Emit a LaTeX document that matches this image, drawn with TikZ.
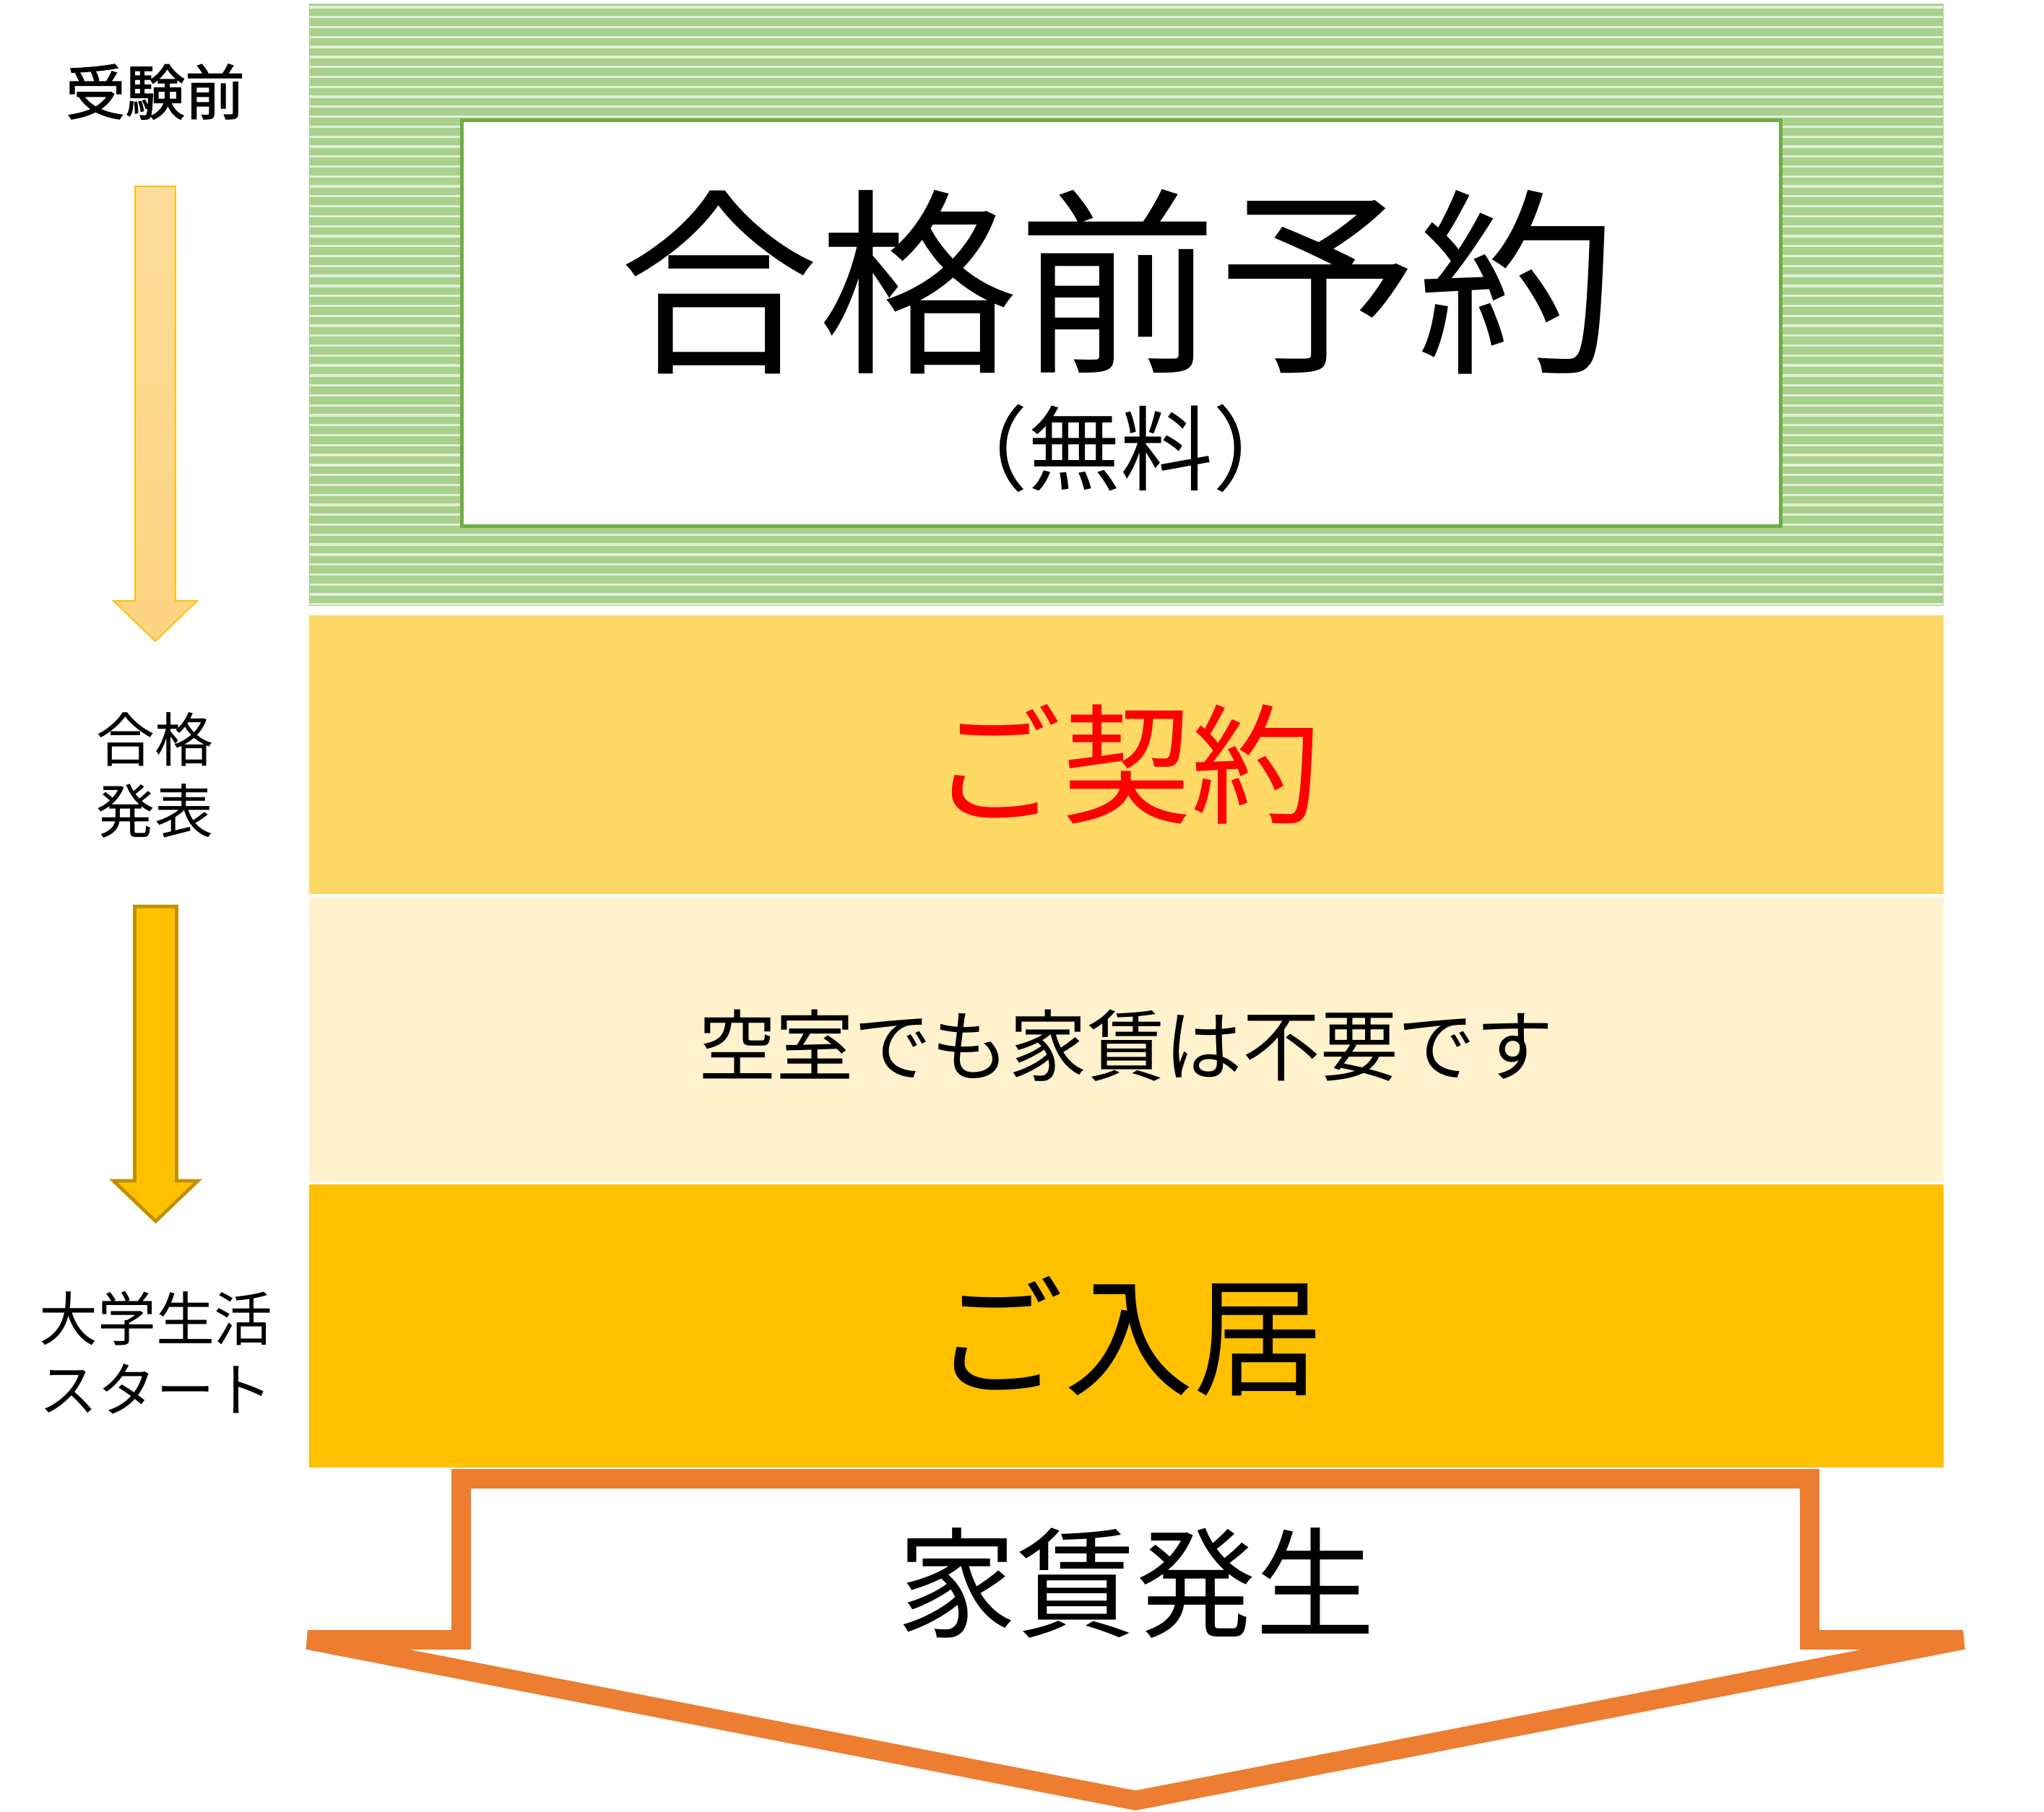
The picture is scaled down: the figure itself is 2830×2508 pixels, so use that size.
\documentclass[tikz,border=0pt]{standalone}
\usepackage{fontspec}
\newfontfamily\jp{Noto Sans CJK JP}
\newfontfamily\jpheavy[FakeBold=1.6]{Noto Sans CJK JP}

\definecolor{stripegreen}{HTML}{A9D18E}
\definecolor{stripelight}{HTML}{E2F0D9}
\definecolor{framegreen}{HTML}{70AD47}
\definecolor{bandyellow}{HTML}{FFD966}
\definecolor{bandcream}{HTML}{FFF2CC}
\definecolor{bandgold}{HTML}{FFC000}
\definecolor{rentorange}{HTML}{ED7D31}
\definecolor{darkgold}{HTML}{BF9000}
\definecolor{palegoldtop}{HTML}{FCDC9A}
\definecolor{palegoldbottom}{HTML}{FDD480}

\tikzset{
	band/.style = {inner sep = 0, outer sep = 0, minimum width = 22.61cm},
	stripe/.style = {stripelight, line width = .94pt},
	side/.style = {font = \jp\fontsize{23}{28}\selectfont, align = center, inner sep = 0},
	label/.style = {inner sep = 0}
}

\begin{document}
\begin{tikzpicture}[x = .01cm, y = -.01cm]
	\useasboundingbox (0,0) rectangle (2830,2508);
	
	% stages
	\node[band, fill = stripegreen, minimum height = 8.34cm] (plan) at (1559.5,422) {};
	\foreach \k in {0,...,60}
		\draw[stripe] (429,{10+13.78*\k}) -- (2690,{10+13.78*\k});
	\node[band, fill = bandyellow, minimum height = 3.86cm] (contract) at (1559.5,1045) {};
	\node[band, fill = bandcream, minimum height = 3.93cm] (vacant) at (1559.5,1439.5) {};
	\node[band, fill = bandgold, minimum height = 3.92cm] (movein) at (1559.5,1836) {};
	
	\node[draw = framegreen, line width = 1.42pt, fill = white, inner sep = 0, minimum width = 18.24cm, minimum height = 5.62cm] (planbox) at (1552.5,447.5) {};
	\node[label, font = \jp\fontsize{78.5}{90}\selectfont] (title) at (1548,390) {合格前予約};
	\node[label, font = \jp\fontsize{36.4}{44}\selectfont] (free) at (1551,621) {（無料）};
	\node[label, font = \jp\fontsize{51}{60}\selectfont, red] (sign) at (1560,1058) {ご契約};
	\node[label, font = \jp\fontsize{30.6}{36}\selectfont] (norent) at (1559,1448) {空室でも家賃は不要です};
	\node[label, font = \jp\fontsize{51}{60}\selectfont] (move) at (1563,1850) {ご入居};
	
	% rent arrow
	\draw[rentorange, line width = 7.68pt, fill = white, miter limit = 4]
		(638.5,2047.5) -- (2505.5,2047.5) -- (2505.5,2270.5) -- (2718,2270.5)
		-- (1572,2493) -- (426,2270.5) -- (638.5,2270.5) -- cycle;
	\node[label, font = \jp\fontsize{47}{56}\selectfont] (rent) at (1573,2192) {家賃発生};
	
	% time line
	\node[side, font = \jpheavy\fontsize{23.5}{28}\selectfont] (before) at (215,127) {受験前};
	\node[side] (result) at (214.5,1073.5) {合格\\発表};
	\node[side] (start) at (216,1873) {大学生活\\スタート};
	
	\draw[draw = bandgold, line width = .5pt, top color = palegoldtop, bottom color = palegoldbottom]
		(187,258) -- (243,258) -- (243,832) -- (273,832) -- (215,888) -- (157,832) -- (187,832) -- cycle;
	\draw[draw = darkgold, line width = 1.34pt, fill = bandgold]
		(186.5,1255) -- (244.5,1255) -- (244.5,1635) -- (274,1635) -- (215.5,1691) -- (157,1635) -- (186.5,1635) -- cycle;
\end{tikzpicture}
\end{document}
